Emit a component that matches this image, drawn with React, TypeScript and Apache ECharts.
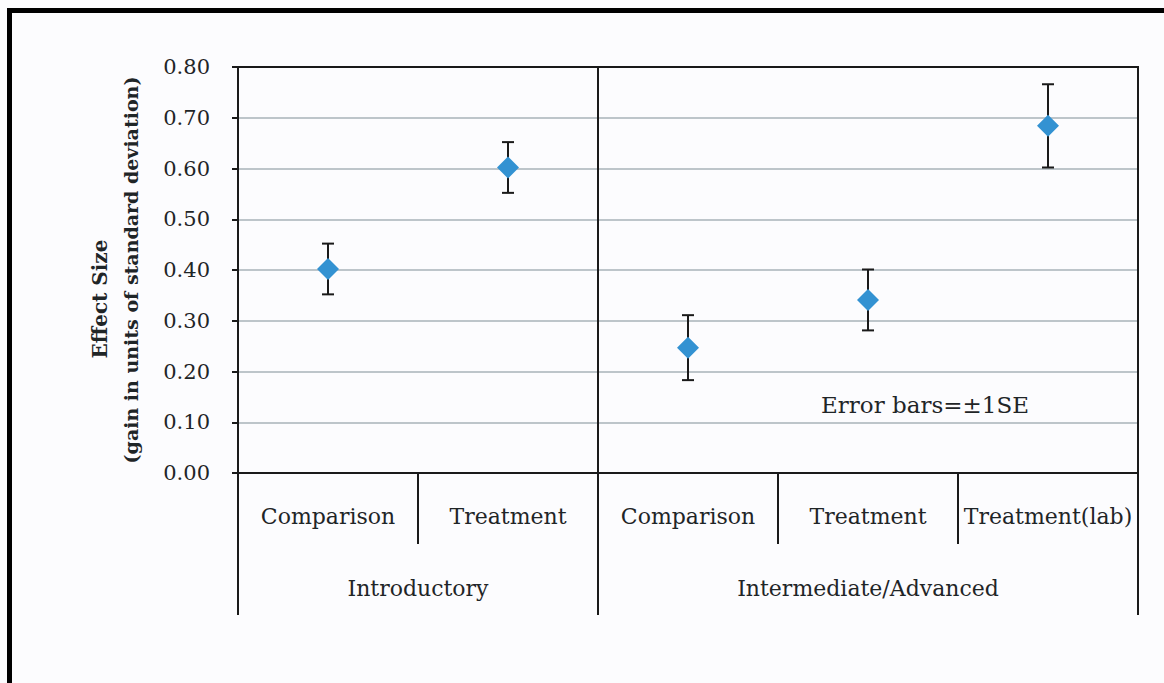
import React, { useEffect, useRef } from 'react';
import * as echarts from 'echarts';

// ---- data ----
const categories = ['Comparison', 'Treatment', 'Comparison', 'Treatment', 'Treatment(lab)'];
const groups = ['Introductory', 'Intermediate/Advanced'];
const groupSizes = [2, 3];
const effectSize = [0.402, 0.602, 0.247, 0.341, 0.684];
const standardError = [0.05, 0.05, 0.064, 0.06, 0.082];
const yMin = 0;
const yMax = 0.8;
const yStep = 0.1;
const yTitle1 = 'Effect Size';
const yTitle2 = '(gain in units of standard deviation)';
const note = 'Error bars=±1SE';

const SERIF = '"DejaVu Serif", serif';
const TXT = '#1f2527';
const INK = '#1a1a1a';

export default function App() {
  const ref = useRef<HTMLDivElement>(null);

  useEffect(() => {
    document.body.style.margin = '0';
    if (!ref.current) return;
    const chart = echarts.init(ref.current, null, { renderer: 'svg' });

    const bounds: number[] = [0];
    const centers: number[] = [];
    groupSizes.forEach((n) => {
      const start = bounds[bounds.length - 1];
      centers.push(start + n / 2);
      bounds.push(start + n);
    });
    const total = bounds[bounds.length - 1];

    const nLines = Math.round((yMax - yMin) / yStep) + 1;
    const gridColors = Array.from({ length: nLines }, (_, i) =>
      i === 0 || i === nLines - 1 ? INK : '#a9b3b8'
    );

    chart.setOption({
      animation: false,
      backgroundColor: '#fcfcfe',
      grid: {
        left: 238,
        right: 26,
        top: 67,
        bottom: 210,
        show: true,
        borderColor: INK,
        borderWidth: 2,
        backgroundColor: 'transparent',
      },
      xAxis: [
        {
          type: 'category',
          data: categories,
          boundaryGap: true,
          position: 'bottom',
          axisLine: { show: true, lineStyle: { color: INK, width: 2 } },
          axisTick: { show: true, interval: 0, length: 71, alignWithLabel: false, lineStyle: { color: INK, width: 2 } },
          axisLabel: { interval: 0, margin: 32, fontSize: 22, fontFamily: SERIF, color: TXT },
          splitLine: { show: false },
        },
        {
          type: 'value',
          min: 0,
          max: total,
          position: 'bottom',
          axisLine: { show: false },
          axisTick: { show: true, customValues: bounds, length: 142, inside: false, lineStyle: { color: INK, width: 2 } },
          axisLabel: {
            customValues: centers,
            margin: 104,
            fontSize: 22,
            fontFamily: SERIF,
            color: TXT,
            formatter: (v: number) => {
              const idx = centers.findIndex((c) => Math.abs(c - v) < 1e-6);
              return idx >= 0 ? groups[idx] : '';
            },
          },
          splitLine: { show: true, lineStyle: { color: INK, width: 2 } },
        },
      ],
      yAxis: {
        type: 'value',
        min: yMin,
        max: yMax,
        interval: yStep,
        axisLine: { show: true, lineStyle: { color: INK, width: 2 } },
        axisTick: { show: true, length: 6, lineStyle: { color: INK, width: 2 } },
        axisLabel: {
          margin: 28,
          fontSize: 21,
          fontFamily: SERIF,
          color: TXT,
          formatter: (v: number) => v.toFixed(2),
        },
        splitLine: { show: true, lineStyle: { color: gridColors, width: 1.5 } },
      },
      series: [
        {
          type: 'custom',
          xAxisIndex: 0,
          yAxisIndex: 0,
          z: 3,
          data: effectSize.map((v, i) => [i, v - standardError[i], v + standardError[i]]),
          renderItem: (params: any, api: any) => {
            const x = api.value(0);
            const lo = api.coord([x, api.value(1)]);
            const hi = api.coord([x, api.value(2)]);
            const style = { stroke: INK, lineWidth: 2 };
            const cap = 6;
            return {
              type: 'group',
              children: [
                { type: 'line', shape: { x1: lo[0], y1: lo[1], x2: hi[0], y2: hi[1] }, style },
                { type: 'line', shape: { x1: hi[0] - cap, y1: hi[1], x2: hi[0] + cap, y2: hi[1] }, style },
                { type: 'line', shape: { x1: lo[0] - cap, y1: lo[1], x2: lo[0] + cap, y2: lo[1] }, style },
              ],
            };
          },
        },
        {
          type: 'scatter',
          xAxisIndex: 0,
          yAxisIndex: 0,
          z: 4,
          symbol: 'diamond',
          symbolSize: 22,
          itemStyle: { color: '#3392d2', opacity: 1 },
          data: effectSize.map((v, i) => [i, v]),
        },
      ],
      graphic: [
        { type: 'rect', shape: { x: 7, y: 8, width: 1160, height: 5 }, style: { fill: '#000' } },
        { type: 'rect', shape: { x: 7, y: 8, width: 5, height: 680 }, style: { fill: '#000' } },
        {
          type: 'text',
          x: 100,
          y: 299,
          rotation: Math.PI / 2,
          style: { text: yTitle1, align: 'center', verticalAlign: 'middle', font: `bold 20px ${SERIF}`, fill: TXT },
        },
        {
          type: 'text',
          x: 131,
          y: 270,
          rotation: Math.PI / 2,
          style: { text: yTitle2, align: 'center', verticalAlign: 'middle', font: `bold 19px ${SERIF}`, fill: TXT },
        },
        {
          type: 'text',
          x: 925,
          y: 405,
          style: { text: note, align: 'center', verticalAlign: 'middle', font: `23px ${SERIF}`, fill: TXT },
        },
      ],
    });

    return () => chart.dispose();
  }, []);

  return <div ref={ref} style={{ width: 1164, height: 683 }} />;
}
